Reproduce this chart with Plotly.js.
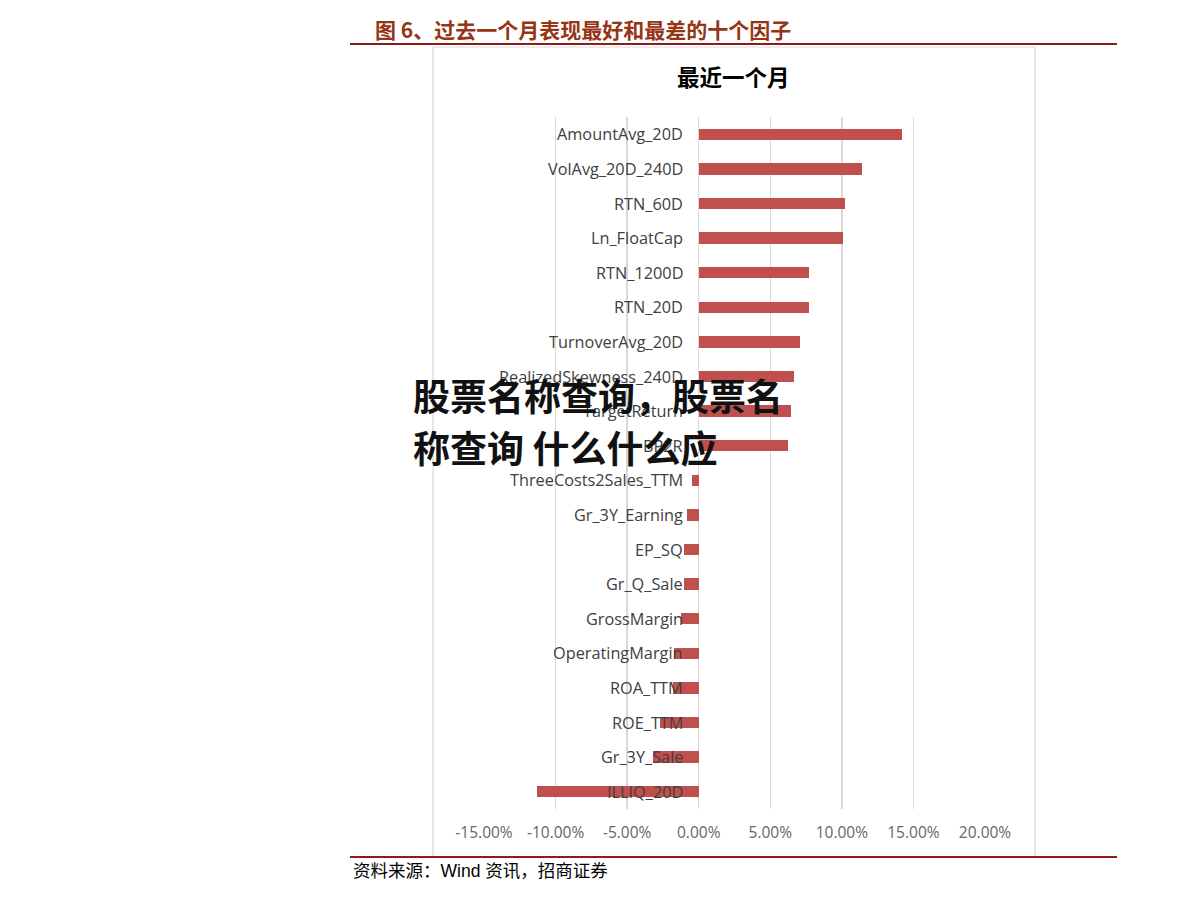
<!DOCTYPE html>
<html>
<head>
<meta charset="utf-8">
<script src="https://cdn.plot.ly/plotly-3.0.1.min.js"></script>
<style>html,body{margin:0;padding:0;background:#fff;}#chart{width:1191px;height:900px;}</style>
</head>
<body>
<div id="chart"></div>
<script>
// ---- data ----
var factors = ['AmountAvg_20D','VolAvg_20D_240D','RTN_60D','Ln_FloatCap','RTN_1200D','RTN_20D','TurnoverAvg_20D','RealizedSkewness_240D','TargetReturn','BP2R','ThreeCosts2Sales_TTM','Gr_3Y_Earning','EP_SQ','Gr_Q_Sale','GrossMargin','OperatingMargin','ROA_TTM','ROE_TTM','Gr_3Y_Sale','ILLIQ_20D'];
var returns = [0.142,0.114,0.102,0.101,0.077,0.077,0.071,0.0665,0.0645,0.0625,-0.005,-0.008,-0.0105,-0.0105,-0.0125,-0.017,-0.018,-0.027,-0.032,-0.113];
var tickValues = [-0.15,-0.10,-0.05,0,0.05,0.10,0.15,0.20];
var tickLabels = ['-15.00%','-10.00%','-5.00%','0.00%','5.00%','10.00%','15.00%','20.00%'];
var figureTitle = '图 6、过去一个月表现最好和最差的十个因子';
var chartTitle = '最近一个月';
var sourceText = '资料来源：Wind 资讯，招商证券';
var overlayLines = ['股票名称查询，股票名', '称查询 什么什么应'];

// ---- layout helpers (pixel -> paper) ----
var W = 1191, H = 900;
function px(x){ return x / W; }
function py(y){ return 1 - y / H; }

var trace = {
  type: 'bar',
  orientation: 'h',
  y: factors,
  x: returns,
  width: 0.33,
  marker: {color: '#C0504D'},
  hoverinfo: 'x+y'
};

var annotations = [];
factors.forEach(function(f){
  annotations.push({
    x: 0, y: f, xref: 'x', yref: 'y',
    text: f, showarrow: false, xanchor: 'right', yanchor: 'middle',
    xshift: -14,
    font: {family: 'Open Sans, sans-serif', size: 16.3, color: '#404040'}
  });
});
annotations.push({
  x: px(373), y: py(29), xref: 'paper', yref: 'paper', xanchor: 'left', yanchor: 'middle',
  text: figureTitle, showarrow: false,
  font: {family: 'Noto Sans CJK SC', size: 21, color: '#953516', weight: 'bold'}
});
annotations.push({
  x: px(733), y: py(76), xref: 'paper', yref: 'paper', xanchor: 'center', yanchor: 'middle',
  text: chartTitle, showarrow: false,
  font: {family: 'Noto Sans CJK SC', size: 22.5, color: '#000000', weight: 'bold'}
});
annotations.push({
  x: px(351), y: py(871), xref: 'paper', yref: 'paper', xanchor: 'left', yanchor: 'middle',
  text: sourceText, showarrow: false,
  font: {family: 'Liberation Sans, Noto Sans CJK SC', size: 17.5, color: '#000000'}
});
var overlayY = [395, 447];
overlayLines.forEach(function(t, i){
  annotations.push({
    x: px(411), y: py(overlayY[i]), xref: 'paper', yref: 'paper', xanchor: 'left', yanchor: 'middle',
    text: t, showarrow: false,
    font: {family: 'Noto Sans CJK SC', size: 37, color: '#111111', weight: 'bold'}
  });
});

var layout = {
  width: W, height: H,
  margin: {l: 0, r: 0, t: 0, b: 0},
  paper_bgcolor: '#ffffff',
  plot_bgcolor: '#ffffff',
  showlegend: false,
  bargap: 0,
  xaxis: {
    domain: [px(484), px(985)],
    range: [-0.15, 0.20],
    tickmode: 'array',
    tickvals: tickValues,
    ticktext: tickLabels,
    showgrid: true,
    gridcolor: '#D9D9D9',
    gridwidth: 1.5,
    zeroline: true,
    zerolinecolor: '#D9D9D9',
    zerolinewidth: 1.5,
    showline: false,
    ticks: '',
    ticklabelstandoff: 12,
    tickfont: {family: 'Open Sans, sans-serif', size: 15.5, color: '#666666'},
    fixedrange: true
  },
  yaxis: {
    domain: [py(809), py(117)],
    type: 'category',
    range: [factors.length - 0.5, -0.5],
    showticklabels: false,
    showgrid: false,
    zeroline: false,
    showline: false,
    ticks: '',
    fixedrange: true
  },
  annotations: annotations,
  shapes: [
    {type: 'rect', xref: 'paper', yref: 'paper', x0: px(433), x1: px(1035), y0: py(857), y1: py(47),
     line: {color: '#D9D9D9', width: 1.2}, fillcolor: 'rgba(0,0,0,0)', layer: 'below'},
    {type: 'line', xref: 'paper', yref: 'paper', x0: px(350), x1: px(1117), y0: py(44), y1: py(44),
     line: {color: '#8C1C1C', width: 2}},
    {type: 'line', xref: 'paper', yref: 'paper', x0: px(350), x1: px(1117), y0: py(857), y1: py(857),
     line: {color: '#8C1C1C', width: 2}}
  ]
};

Plotly.newPlot('chart', [trace], layout, {displayModeBar: false, staticPlot: true});
</script>
</body>
</html>
